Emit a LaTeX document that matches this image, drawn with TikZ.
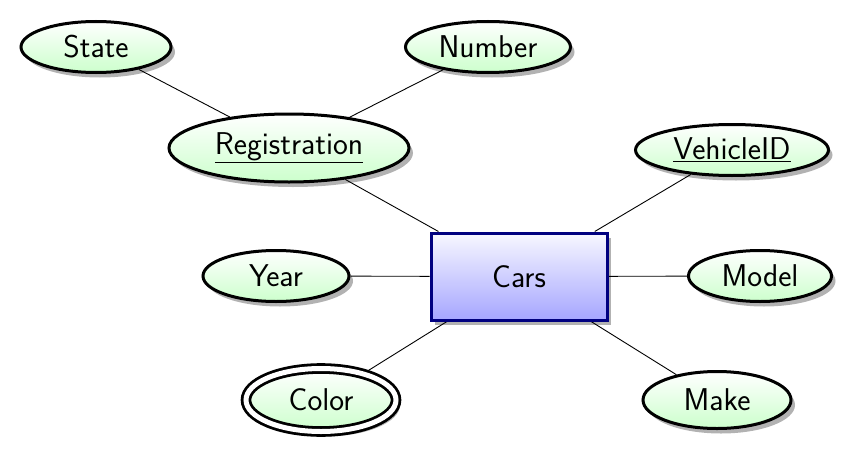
\documentclass[tikz,border=0pt]{standalone}
\usepackage{fontspec}
\usetikzlibrary{shapes.geometric,shadows,backgrounds}
\begin{document}
\begin{tikzpicture}[x=1pt,y=-1pt,
  font=\sffamily\fontsize{31.5}{36}\selectfont,
  attr/.style={ellipse, draw=black, line width=3pt, top color=white, bottom color=green!20,
     inner sep=0pt, drop shadow={shadow xshift=4pt, shadow yshift=-5pt, fill=black, opacity=0.3}},
  multi/.style={attr, double=white, double distance=5pt, line width=2.8pt},
  entity/.style={rectangle, draw=blue!50!black, line width=3pt, top color=blue!3, bottom color=blue!35,
     inner sep=0pt, drop shadow={shadow xshift=4pt, shadow yshift=-5pt, fill=black, opacity=0.3}},
  link/.style={draw=black, line width=0.9pt}]
\useasboundingbox (0,0) rectangle (861,460);
\node[attr, minimum width=150, minimum height=51] (state) at (96,47) {State};
\node[attr, minimum width=165, minimum height=51] (number) at (488,47) {Number};
\node[attr, minimum width=240, minimum height=68] (reg) at (289,148) {\underline{Registration}};
\node[attr, minimum width=193, minimum height=51] (vid) at (732,150) {\underline{VehicleID}};
\node[entity, minimum width=176, minimum height=87] (cars) at (519,276.5) {Cars};
\node[attr, minimum width=146, minimum height=51] (year) at (276,276) {Year};
\node[attr, minimum width=143, minimum height=51] (model) at (760,276) {Model};
\node[multi, minimum width=150, minimum height=63] (color) at (321,400) {Color};
\node[attr, minimum width=148, minimum height=57] (make) at (717,400) {Make};
\begin{scope}[on background layer]
\draw[link] (state) -- (reg);
\draw[link] (number) -- (reg);
\draw[link] (reg) -- (cars);
\draw[link] (vid) -- (cars);
\draw[link] (year) -- (cars);
\draw[link] (model) -- (cars);
\draw[link] (color) -- (cars);
\draw[link] (make) -- (cars);
\end{scope}
\end{tikzpicture}
\end{document}
